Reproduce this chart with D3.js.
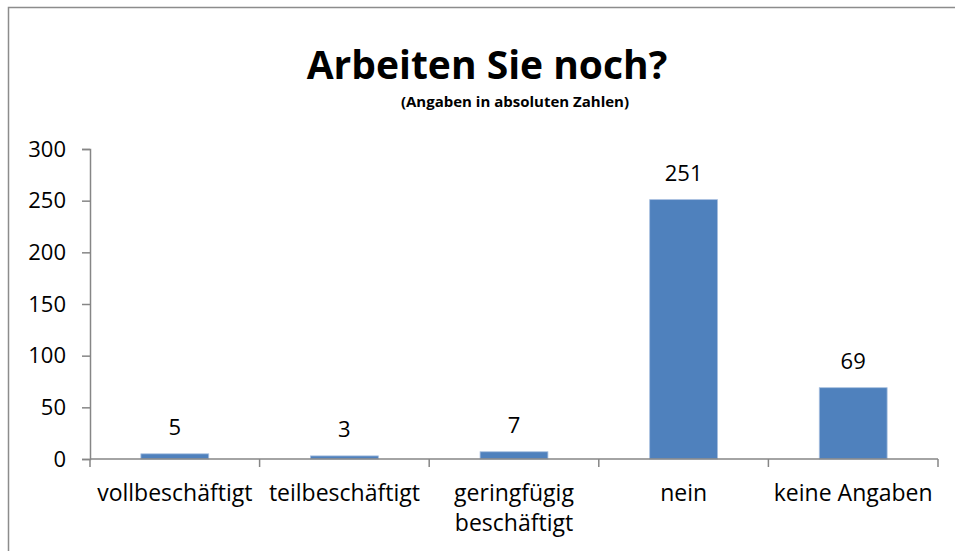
<!DOCTYPE html>
<html>
<head>
<meta charset="utf-8">
<script src="https://cdn.jsdelivr.net/npm/d3@7"></script>
<style>
  body { margin: 0; background: white; }
  svg { display: block; font-family: "Open Sans", "Noto Sans", sans-serif; }
</style>
</head>
<body>
<div id="chart"></div>
<script>
const categories = ["vollbeschäftigt", "teilbeschäftigt", "geringfügig beschäftigt", "nein", "keine Angaben"];
const values = [5, 3, 7, 251, 69];
const yTicks = [0, 50, 100, 150, 200, 250, 300];

// label line breaks, as in the original
const labelLines = {
    "geringfügig beschäftigt": ["geringfügig", "beschäftigt"]
};

const width = 955;
const height = 551;

const svg = d3.select('#chart')
    .append('svg')
    .attr('width', width)
    .attr('height', height);

// outer frame (only top and left edges are visible in the crop)
svg.append('rect')
    .attr('x', 8.5)
    .attr('y', 7.5)
    .attr('width', 1200)
    .attr('height', 1200)
    .attr('fill', 'none')
    .attr('stroke', '#8c8c8c')
    .attr('stroke-width', 1.5);

const x = d3.scaleBand()
    .domain(categories)
    .range([90, 938])
    .paddingInner(0.6)
    .paddingOuter(0.3);

const y = d3.scaleLinear()
    .domain([0, 300])
    .range([459, 149]);

// title
svg.append('text')
    .attr('x', 487)
    .attr('y', 79)
    .attr('text-anchor', 'middle')
    .attr('font-size', '39px')
    .attr('font-weight', 'bold')
    .attr('fill', '#000')
    .text('Arbeiten Sie noch?');

svg.append('text')
    .attr('x', 515)
    .attr('y', 107)
    .attr('text-anchor', 'middle')
    .attr('font-size', '15px')
    .attr('font-weight', 'bold')
    .attr('fill', '#000')
    .text('(Angaben in absoluten Zahlen)');

// bars
svg.append('g')
    .selectAll('rect')
    .data(values)
    .enter().append('rect')
    .attr('x', (d, i) => x(categories[i]))
    .attr('y', d => y(d))
    .attr('width', x.bandwidth())
    .attr('height', d => y(0) - y(d))
    .attr('fill', '#4f81bd')
    .attr('stroke', '#a7bfdf')
    .attr('stroke-width', 0.8);

// value labels
svg.append('g')
    .selectAll('text')
    .data(values)
    .enter().append('text')
    .attr('x', (d, i) => x(categories[i]) + x.bandwidth() / 2)
    .attr('y', d => y(d) - 19)
    .attr('text-anchor', 'middle')
    .attr('font-size', '22px')
    .attr('fill', '#000')
    .text(d => d);

// y axis
const yAxis = svg.append('g')
    .attr('transform', 'translate(90,0)')
    .call(d3.axisLeft(y).tickValues(yTicks).tickSize(8).tickPadding(16));
yAxis.select('.domain').attr('stroke', '#868686').attr('stroke-width', 1.5);
yAxis.selectAll('.tick line').attr('stroke', '#868686').attr('stroke-width', 1.5);
yAxis.selectAll('.tick text')
    .attr('font-size', '22px')
    .attr('font-family', '"Open Sans", "Noto Sans", sans-serif')
    .attr('fill', '#000');

// x axis: ticks sit on the category boundaries
const boundaries = d3.range(categories.length + 1).map(i => 90 + i * (848 / categories.length));
const xAxis = svg.append('g');
xAxis.append('line')
    .attr('x1', 90).attr('x2', 938)
    .attr('y1', y(0)).attr('y2', y(0))
    .attr('stroke', '#868686')
    .attr('stroke-width', 1.5);
xAxis.selectAll('.xtick')
    .data(boundaries)
    .enter().append('line')
    .attr('class', 'xtick')
    .attr('x1', d => d).attr('x2', d => d)
    .attr('y1', y(0)).attr('y2', y(0) + 8)
    .attr('stroke', '#868686')
    .attr('stroke-width', 1.5);

const catText = xAxis.selectAll('.xlabel')
    .data(categories)
    .enter().append('text')
    .attr('class', 'xlabel')
    .attr('x', d => x(d) + x.bandwidth() / 2)
    .attr('y', 501)
    .attr('text-anchor', 'middle')
    .attr('font-size', '23px')
    .attr('fill', '#000');

catText.each(function(d) {
    const lines = labelLines[d] || [d];
    const t = d3.select(this);
    lines.forEach((line, i) => {
        t.append('tspan')
            .attr('x', x(d) + x.bandwidth() / 2)
            .attr('dy', i === 0 ? 0 : 30)
            .text(line);
    });
});
</script>
</body>
</html>
